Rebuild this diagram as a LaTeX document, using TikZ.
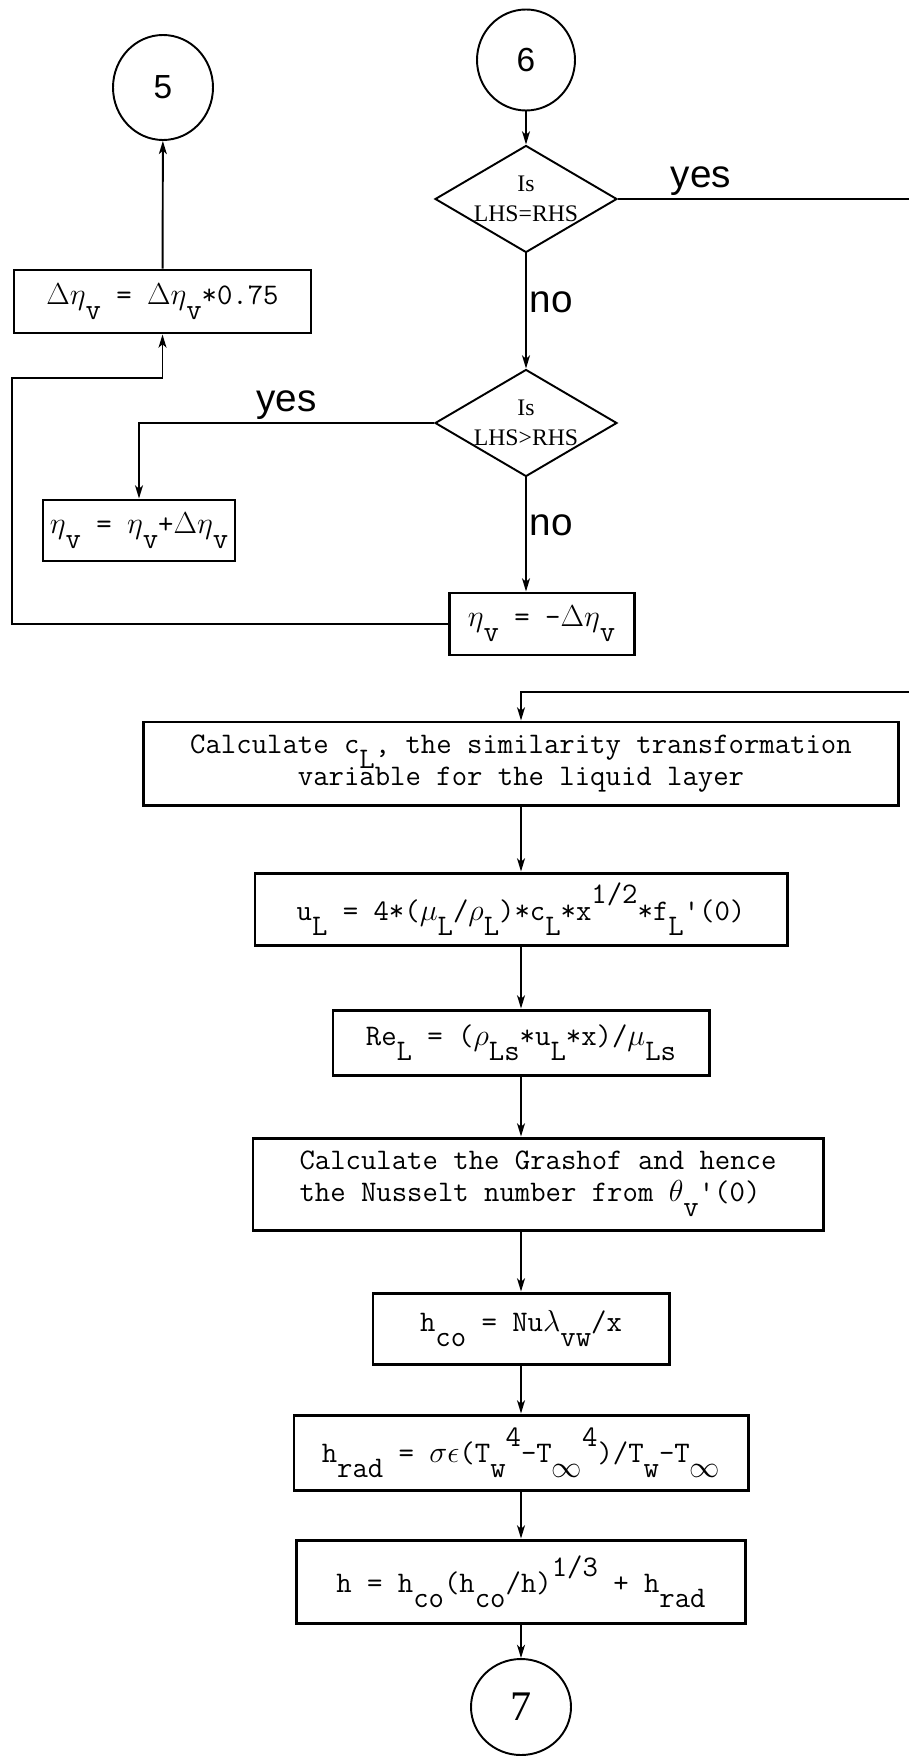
\documentclass[tikz,border=0pt]{standalone}
\usepackage{fontspec}
\usetikzlibrary{shapes.geometric,arrows.meta}
\newfontfamily\labelfont{Liberation Sans}
\newfontfamily\diafont{Liberation Serif}
\newcommand{\dn}[1]{\raisebox{-0.5em}{#1}}
\newcommand{\dnz}[1]{\raisebox{-0.5em}[0pt][0pt]{#1}}
\newcommand{\upr}[1]{\raisebox{0.55em}{#1}}
\begin{document}
\begin{tikzpicture}[>={Stealth[length=7.5pt,width=4.5pt,inset=2pt]},
  box/.style={draw, line width=1.7pt, rectangle, inner sep=0pt, font=\ttfamily\fontsize{17}{18.2}\selectfont},
  decision/.style={draw, line width=1.1pt, diamond, aspect=1.7, inner sep=0pt, align=center, font=\diafont\fontsize{13.5}{17}\selectfont},
  connector/.style={draw, line width=1.1pt, ellipse, inner sep=0pt},
  flow/.style={->, line width=1.1pt},
  answer/.style={font=\labelfont\fontsize{22}{24}\selectfont, inner sep=1.5pt}]
 \useasboundingbox (0,0) rectangle (18.16,-35.14);
 \node[connector, font=\labelfont\fontsize{19}{20}\selectfont, minimum width=2cm, minimum height=2.1cm] (c5) at (3.26,-1.75) {5};
 \node[connector, font=\labelfont\fontsize{19}{20}\selectfont, minimum width=1.96cm, minimum height=2.02cm] (c6) at (10.52,-1.2) {6};
 \node[decision] (dia1) at (10.52,-3.98) {Is\\LHS=RHS};
 \node[decision] (dia2) at (10.52,-8.46) {Is\\LHS>RHS};
 \node[box, minimum width=5.94cm, minimum height=1.26cm] (dv) at (3.25,-6.03) {$\Delta\eta$\dn{v} = $\Delta\eta$\dn{v}*0.75};
 \node[box, minimum width=3.84cm, minimum height=1.22cm] (etaup) at (2.78,-10.61) {$\eta$\dn{v} = $\eta$\dn{v}+$\Delta\eta$\dn{v}};
 \node[box, minimum width=3.7cm, minimum height=1.24cm] (etadn) at (10.83,-12.48) {$\eta$\dn{v} = -$\Delta\eta$\dn{v}};
 \node[box, align=center, minimum width=15.1cm, minimum height=1.66cm] (calccl) at (10.42,-15.27) {Calculate c\dnz{L}, the similarity transformation\\variable for the liquid layer};
 \node[box, minimum width=10.64cm, minimum height=1.44cm] (ul) at (10.42,-18.18) {u\dn{L} = 4*($\mu$\dn{L}/$\rho$\dn{L})*c\dn{L}*x\upr{1/2}*f\dn{L}'(0)};
 \node[box, minimum width=7.52cm, minimum height=1.3cm] (re) at (10.42,-20.85) {Re\dn{L} = ($\rho$\dn{Ls}*u\dn{L}*x)/$\mu$\dn{Ls}};
 \node[box, align=left, minimum width=11.4cm, minimum height=1.84cm] (gr) at (10.76,-23.68) {Calculate the Grashof and hence\\the Nusselt number from $\theta$\dn{v}'(0)};
 \node[box, minimum width=5.92cm, minimum height=1.42cm] (hco) at (10.42,-26.57) {h\dn{co} = Nu$\lambda$\dn{vw}/x};
 \node[box, minimum width=9.08cm, minimum height=1.5cm] (hrad) at (10.42,-29.05) {h\dn{rad} = $\sigma\epsilon$(T\dn{w}\upr{4}-T\dn{$\infty$}\upr{4})/T\dn{w}-T\dn{$\infty$}};
 \node[box, minimum width=8.98cm, minimum height=1.66cm] (hh) at (10.42,-31.63) {h = h\dn{co}(h\dn{co}/h)\upr{1/3} + h\dn{rad}};
 \node[connector, font=\diafont\fontsize{24}{26}\selectfont, minimum width=2cm, minimum height=1.92cm] (c7) at (10.42,-34.14) {7};
 \coordinate (loopL) at (0.24,-7.56);
 \coordinate (edgeA) at (18.5,-3.98);
 \coordinate (edgeB) at (18.5,-13.84);
 \draw[flow] (c6) -- (dia1);
 \draw[flow] (dv) -- (c5);
 \draw[flow] (dia1) -- node[answer, right, pos=0.42] {no} (dia2);
 \draw[flow] (dia2) -- node[answer, right, pos=0.42] {no} (dia2 |- etadn.north);
 \draw[flow] (dia2.west) -| node[answer, above, pos=0.25] {yes} (etaup.north);
 \draw[flow] (etadn.west) -| (loopL) -| (dv.south);
 \draw[flow] (dia1.east) -- node[answer, above, pos=0.27] {yes} (edgeA) -- (edgeB) -| (calccl.north);
 \draw[flow] (calccl) -- (ul);
 \draw[flow] (ul) -- (re);
 \draw[flow] (re) -- (re |- gr.north);
 \draw[flow] (gr.south -| hco) -- (hco);
 \draw[flow] (hco) -- (hrad);
 \draw[flow] (hrad) -- (hh);
 \draw[flow] (hh) -- (c7);
\end{tikzpicture}
\end{document}
